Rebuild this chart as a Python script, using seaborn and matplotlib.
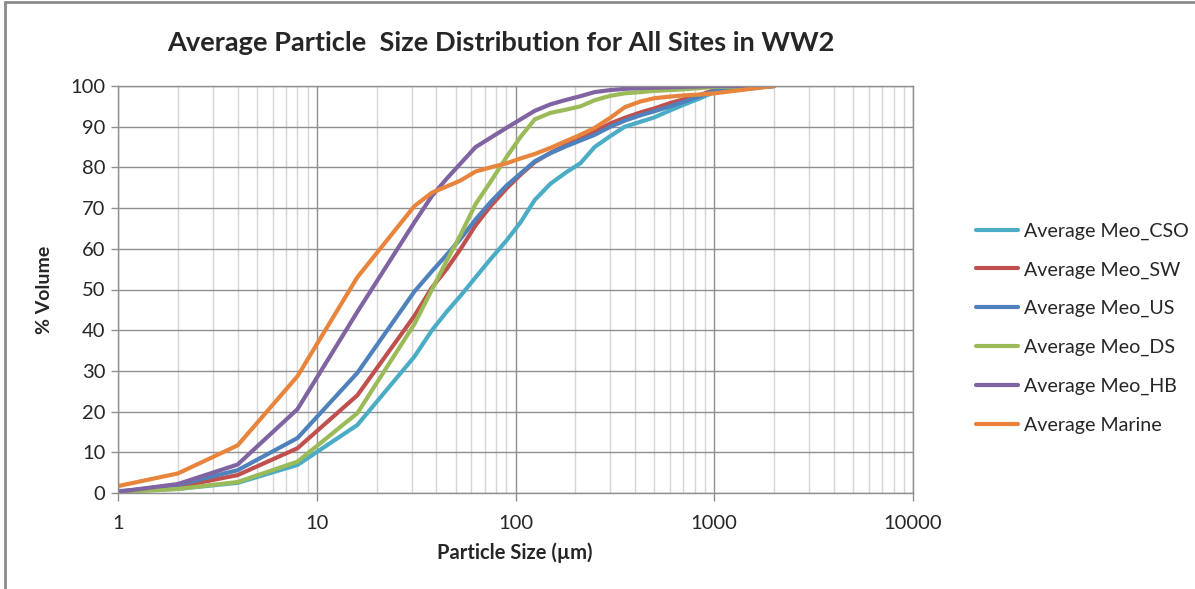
import numpy as np
import pandas as pd
import matplotlib
matplotlib.use("Agg")
import matplotlib.pyplot as plt
import seaborn as sns
from matplotlib.lines import Line2D
from matplotlib.ticker import FixedLocator, FixedFormatter, LogLocator, NullFormatter

# particle size classes (um)
sizes = [1, 2, 4, 8, 16, 31, 38, 45, 53, 63, 75, 90, 106, 125, 150, 180, 212,
         250, 300, 355, 425, 500, 600, 710, 850, 1000, 2000]

# cumulative % volume per site
meo_cso = [0.5, 1.0, 2.5, 6.9, 16.7, 33.5, 40.0, 44.5, 48.5, 53.0, 57.5, 62.0, 66.5,
           72.0, 76.0, 78.8, 81.0, 85.0, 87.7, 90.0, 91.2, 92.3, 94.0, 95.5, 97.0, 98.5, 100]
meo_sw = [0.2, 1.5, 4.4, 11.0, 24.0, 43.5, 50.5, 55.0, 60.0, 65.8, 70.5, 74.8, 78.2,
          81.3, 83.6, 85.5, 87.0, 88.8, 90.8, 92.2, 93.5, 94.5, 95.8, 96.8, 97.8, 99.0, 100]
meo_us = [0.3, 2.0, 5.6, 13.5, 29.5, 49.5, 54.5, 58.5, 62.5, 67.2, 71.5, 75.5, 78.5,
          81.5, 83.5, 85.2, 86.6, 88.0, 90.0, 91.5, 92.8, 93.8, 95.0, 96.2, 97.5, 98.8, 100]
meo_ds = [0.2, 1.0, 2.7, 7.7, 19.6, 41.5, 50.0, 57.0, 63.5, 71.0, 76.5, 82.5, 87.5,
          91.8, 93.4, 94.2, 95.0, 96.5, 97.6, 98.2, 98.5, 98.8, 99.0, 99.2, 99.5, 99.8, 100]
meo_hb = [0.3, 2.2, 7.0, 20.6, 44.5, 66.5, 73.0, 77.2, 81.0, 85.0, 87.3, 89.7, 91.8,
          93.9, 95.5, 96.6, 97.5, 98.5, 99.0, 99.3, 99.5, 99.6, 99.7, 99.8, 99.9, 100, 100]
marine = [1.7, 4.8, 11.7, 28.7, 53.0, 70.5, 73.8, 75.3, 76.8, 79.0, 80.0, 81.0, 82.2,
          83.3, 84.8, 86.5, 88.0, 89.7, 92.2, 94.8, 96.2, 97.0, 97.4, 97.7, 97.9, 98.2, 100]

series = {
    "Average Meo_CSO": meo_cso,
    "Average Meo_SW": meo_sw,
    "Average Meo_US": meo_us,
    "Average Meo_DS": meo_ds,
    "Average Meo_HB": meo_hb,
    "Average Marine": marine,
}
colors = ["#4BACC6", "#C0504D", "#4F81BD", "#9BBB59", "#8064A2", "#E8853D"]

df = pd.concat(
    [pd.DataFrame({"size": sizes, "volume": v, "site": k}) for k, v in series.items()],
    ignore_index=True,
)

sns.set_theme(style="white")
plt.rcParams["font.family"] = ["Lato", "DejaVu Sans"]

W, H = 1195, 589
fig = plt.figure(figsize=(W / 100, H / 100), dpi=100)
ax = fig.add_axes([118 / W, (H - 493) / H, (913 - 118) / W, (493 - 86) / H])

sns.lineplot(data=df, x="size", y="volume", hue="site", palette=colors,
             linewidth=3.0, ax=ax, sort=False, estimator=None)

ax.set_xscale("log")
ax.set_xlim(1, 10000)
ax.set_ylim(0, 100)
ax.xaxis.set_major_locator(FixedLocator([1, 10, 100, 1000, 10000]))
ax.xaxis.set_major_formatter(FixedFormatter(["1", "10", "100", "1000", "10000"]))
ax.xaxis.set_minor_locator(LogLocator(base=10, subs=np.arange(2, 10)))
ax.xaxis.set_minor_formatter(NullFormatter())
ax.set_yticks(range(0, 101, 10))

ax.set_axisbelow(True)
ax.grid(which="major", axis="both", color="#8f8f8f", linewidth=1.0)
ax.grid(which="minor", axis="x", color="#d6d6d6", linewidth=1.0)
for s in ax.spines.values():
    s.set_color("#8f8f8f")
    s.set_linewidth(1.0)

ax.tick_params(axis="x", which="major", direction="out", length=6, width=1,
               color="#8f8f8f", labelsize=14.5, pad=10, bottom=True)
ax.tick_params(axis="x", which="minor", length=0)
ax.tick_params(axis="y", direction="out", length=5, width=1, color="#8f8f8f",
               labelsize=14.5, pad=4, left=True)

ax.set_xlabel("")
ax.set_ylabel("")
fig.text(515 / W, 1 - 553 / H, "Particle Size (µm)", ha="center", va="center",
         fontsize=14.5, fontweight="bold")
fig.text(45 / W, 1 - 290 / H, "% Volume", ha="center", va="center",
         rotation=90, fontsize=14, fontweight="bold")
fig.text(501 / W, 1 - 43 / H, "Average Particle  Size Distribution for All Sites in WW2",
         ha="center", va="center", fontsize=19.6, fontweight="bold")

ax.legend(loc="center left", bbox_to_anchor=(966 / W, 1 - 328 / H),
          bbox_transform=fig.transFigure, frameon=False, fontsize=14.1,
          handlelength=2.15, handletextpad=0.3, labelspacing=1.1, borderpad=0)

# chart area frame (top and left edges visible)
fig.add_artist(Line2D([5 / W, 1.0], [1 - 2 / H, 1 - 2 / H], color="#8c8c8c",
                      linewidth=2, transform=fig.transFigure))
fig.add_artist(Line2D([5 / W, 5 / W], [0, 1 - 2 / H], color="#8c8c8c",
                      linewidth=2, transform=fig.transFigure))

fig.savefig("out.png", dpi=100)
